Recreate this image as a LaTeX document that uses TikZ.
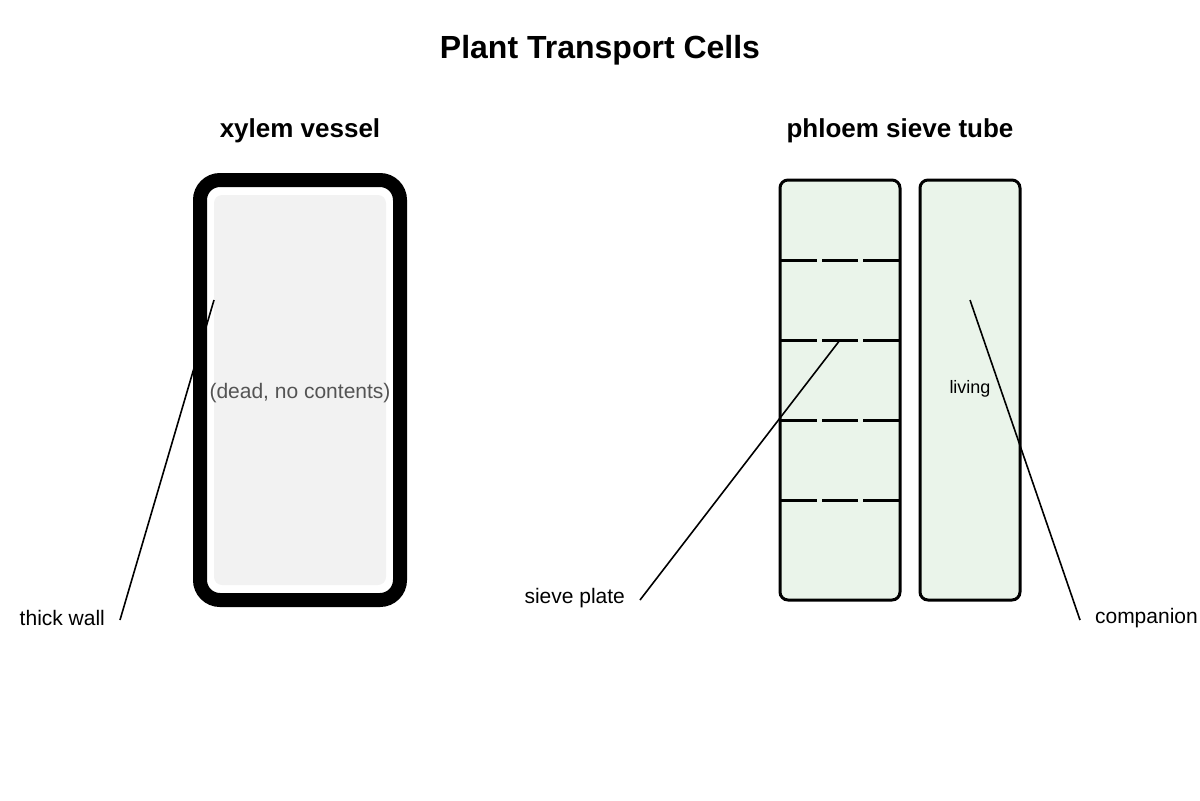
\documentclass[tikz,border=0pt]{standalone}
\usepackage{fontspec}
\setmainfont{Liberation Sans}
\begin{document}
\begin{tikzpicture}[x=0.5pt,y=-0.5pt,
    title/.style={font=\bfseries\fontsize{16}{19}\selectfont},
    head/.style={font=\bfseries\fontsize{13}{16}\selectfont},
    lbl/.style={font=\fontsize{10.5}{13}\selectfont},
    cell/.style={draw=black,line width=1.5pt,fill=green!40!black!10!white,fill=phl,rounded corners=4pt},
    plate/.style={line width=1.5pt,dash pattern=on 18pt off 2.5pt},
    ptr/.style={line width=0.8pt}]
  \definecolor{phl}{HTML}{EAF4EA}
  \useasboundingbox (0,0) rectangle (1200,800);

  \node[title] (title) at (600,50) {Plant Transport Cells};
  \node[head] (xh) at (300,131) {xylem vessel};
  \node[head] (ph) at (900,131) {phloem sieve tube};

  % xylem
  \draw[line width=7pt,rounded corners=10pt] (200,180) rectangle (400,600);
  \fill[black!5,rounded corners=4pt] (214,195) rectangle (386,585);
  \node[lbl,text=black!67] (dead) at (300,393) {(dead, no contents)};

  % phloem
  \draw[cell] (780,180) rectangle (900,600);
  \draw[cell] (920,180) rectangle (1020,600);
  \foreach \y in {260,340,420,500}
    \draw[plate] (781,\y) -- (899,\y);
  \node[font=\fontsize{9}{11}\selectfont] (living) at (970,389) {living};

  % labels
  \node[lbl,anchor=east] (wall) at (112,618) {thick wall};
  \node[lbl,anchor=east] (sieve) at (632,598) {sieve plate};
  \node[lbl,anchor=west] (comp) at (1088,618) {companion};
  \coordinate (wallp) at (214,300);
  \coordinate (sievep) at (840,340);
  \coordinate (compp) at (970,300);
  \draw[ptr] (wall.east) ++(8,2) -- (wallp);
  \draw[ptr] (sieve.east) ++(8,2) -- (sievep);
  \draw[ptr] (comp.west) ++(-8,2) -- (compp);
\end{tikzpicture}
\end{document}
